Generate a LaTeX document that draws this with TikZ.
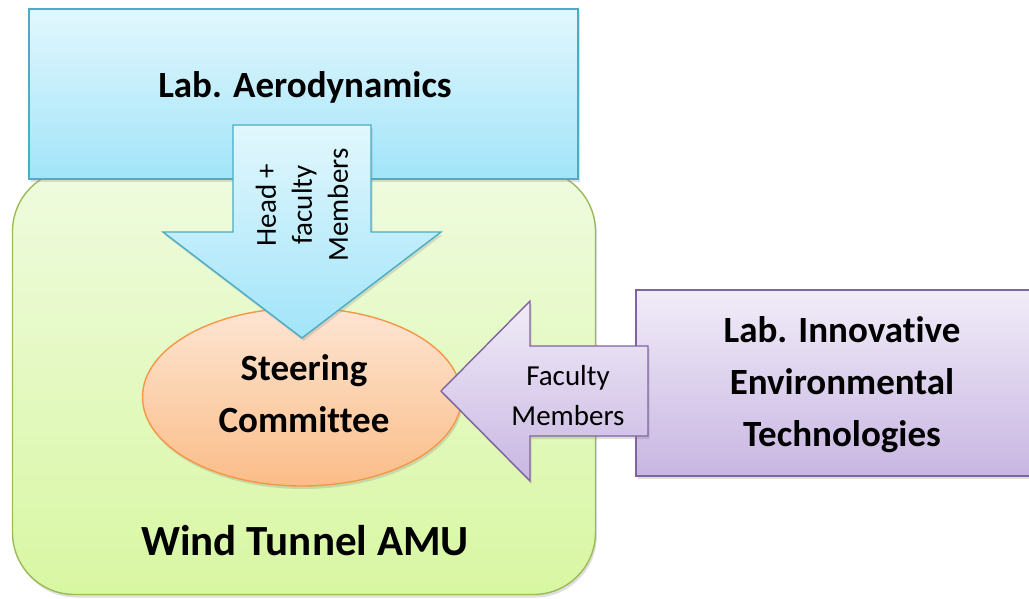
\documentclass[tikz,border=0pt]{standalone}
\usepackage{fontspec}
\setmainfont{Carlito}[Ligatures=NoCommon]
\usetikzlibrary{positioning, calc, shapes.geometric, shadows}

%% office-like palette: light top, deeper bottom, darker outline
\definecolor{aerotop}{HTML}{E2F7FD}
\definecolor{aerobot}{HTML}{A2E4F9}
\definecolor{aeroline}{HTML}{4BACC6}
\definecolor{amutop}{HTML}{EFFBDF}
\definecolor{amubot}{HTML}{D8F7A2}
\definecolor{amuline}{HTML}{9BBB59}
\definecolor{steertop}{HTML}{FDE5D3}
\definecolor{steerbot}{HTML}{FBBD88}
\definecolor{steerline}{HTML}{F79646}
\definecolor{envtop}{HTML}{F1ECF8}
\definecolor{envbot}{HTML}{C8B6E2}
\definecolor{envline}{HTML}{8064A2}

\begin{document}
\begin{tikzpicture}[x=1pt, y=-1pt,
  %% soft shadow under every block
  soft/.style={drop shadow={opacity=0.25, shadow xshift=1.5pt, shadow yshift=-3pt}},
  %% filled blocks, colour family given as argument
  blk/.style={draw=#1line, line width=1.4pt, top color=#1top, bottom color=#1bot, soft},
  labbox/.style={rectangle, blk=#1, inner sep=0pt},
  %% block arrows
  barrow/.style={blk=#1, line join=miter},
  %% texts
  bigtxt/.style={font=\bfseries\fontsize{37}{52}\selectfont, align=center},
  smalltxt/.style={font=\fontsize{29}{40}\selectfont, align=center}
]
\useasboundingbox (0,0) rectangle (1029,598);

%% ================================================================
%% WIND TUNNEL (container)
%% ================================================================
\node[labbox=amu, rounded corners=62pt, minimum width=583pt, minimum height=425pt]
  (amu) at (304,382) {};
\node[font=\bfseries\fontsize{43}{50}\selectfont] (amutxt) at (305,541) {Wind Tunnel AMU};

%% ================================================================
%% LAB. AERODYNAMICS
%% ================================================================
\node[labbox=aero, minimum width=549pt, minimum height=170pt] (aero) at (303.5,94) {};
\node[bigtxt] (aerotxt) at (305,87) {Lab. Aerodynamics};

%% ================================================================
%% STEERING COMMITTEE
%% ================================================================
\node[ellipse, blk=steer, minimum width=319pt, minimum height=178pt, inner sep=0pt]
  (steer) at (302,397) {};
\node[bigtxt] (steertxt) at (304,394) {Steering\\Committee};

%% arrow from aerodynamics down to the committee
\draw[barrow=aero] (233,125) -- (371,125) -- (371,232) -- (441,232)
  -- (302,338) -- (163,232) -- (233,232) -- cycle;
\node[smalltxt, font=\fontsize{29}{36}\selectfont, rotate=90] (headtxt) at (302,205)
  {Head +\\faculty\\Members};

%% ================================================================
%% LAB. INNOVATIVE ENVIRONMENTAL TECHNOLOGIES
%% ================================================================
\node[labbox=env, minimum width=420pt, minimum height=186pt] (env) at (846,383) {};
\node[bigtxt] (envtxt) at (842,385) {Lab. Innovative\\Environmental\\Technologies};

%% arrow from the environmental lab into the committee
\draw[barrow=env] (648,346) -- (648,436) -- (530,436) -- (530,481)
  -- (441,391) -- (530,301) -- (530,346) -- cycle;
\node[smalltxt] (factxt) at (568,396) {Faculty\\Members};

\end{tikzpicture}
\end{document}
